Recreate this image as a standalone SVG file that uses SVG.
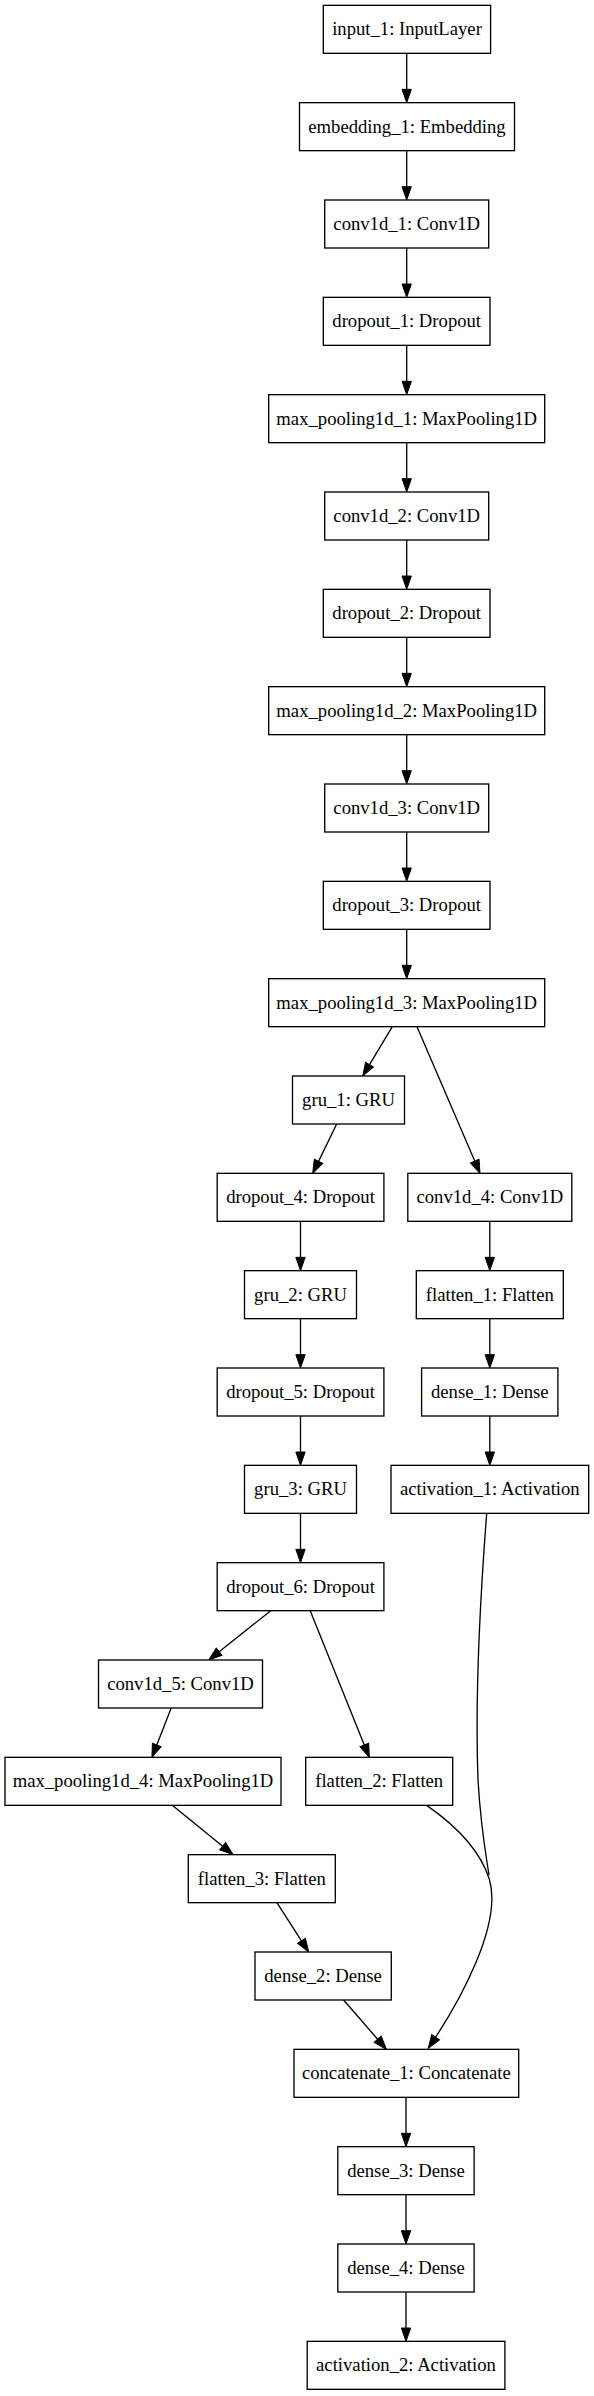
<svg xmlns="http://www.w3.org/2000/svg" width="594" height="2396" viewBox="0 0 594 2396">
<style>
rect{fill:#fff;stroke:#000;stroke-width:1.33}
text{font-family:"Liberation Serif","Times New Roman",serif;font-size:18.67px;fill:#000;text-anchor:middle}
.e{fill:none;stroke:#000;stroke-width:1.33;marker-end:url(#ah)}
.l{fill:none;stroke:#000;stroke-width:1.33}
</style>
<defs>
<marker id="ah" markerUnits="userSpaceOnUse" markerWidth="13.33" markerHeight="9.33" viewBox="0 0 13.33 9.33" refX="0" refY="4.67" orient="auto" overflow="visible">
<path d="M0,0 L13.33,4.67 L0,9.33 z" fill="#000" stroke="#000" stroke-width="1"/>
</marker>
</defs>
<rect x="0" y="0" width="594" height="2396" style="fill:#fff;stroke:none"/>
<g id="edges">
<line class="e" x1="406.7" y1="53.33" x2="406.7" y2="89.33"/>
<line class="e" x1="406.7" y1="150.67" x2="406.7" y2="186.67"/>
<line class="e" x1="406.7" y1="248" x2="406.7" y2="284"/>
<line class="e" x1="406.7" y1="345.33" x2="406.7" y2="381.33"/>
<line class="e" x1="406.7" y1="442.67" x2="406.7" y2="478.67"/>
<line class="e" x1="406.7" y1="540" x2="406.7" y2="576"/>
<line class="e" x1="406.7" y1="637.33" x2="406.7" y2="673.33"/>
<line class="e" x1="406.7" y1="734.67" x2="406.7" y2="770.67"/>
<line class="e" x1="406.7" y1="832" x2="406.7" y2="868"/>
<line class="e" x1="406.7" y1="929.33" x2="406.7" y2="965.33"/>
<line class="e" x1="392.3" y1="1026.67" x2="369.56" y2="1064.57"/>
<line class="e" x1="417" y1="1026.67" x2="474.74" y2="1161.08"/>
<line class="e" x1="336.7" y1="1124" x2="318.53" y2="1161.34"/>
<line class="e" x1="300.5" y1="1221.33" x2="300.5" y2="1257.33"/>
<line class="e" x1="300.5" y1="1318.67" x2="300.5" y2="1354.67"/>
<line class="e" x1="300.5" y1="1416" x2="300.5" y2="1452"/>
<line class="e" x1="300.5" y1="1513.33" x2="300.5" y2="1549.33"/>
<line class="e" x1="489.8" y1="1221.33" x2="489.8" y2="1257.33"/>
<line class="e" x1="489.8" y1="1318.67" x2="489.8" y2="1354.67"/>
<line class="e" x1="489.8" y1="1416" x2="489.8" y2="1452"/>
<line class="e" x1="270.8" y1="1610.67" x2="219.14" y2="1651.71"/>
<line class="e" x1="310.2" y1="1610.67" x2="364.32" y2="1744.96"/>
<line class="e" x1="171.2" y1="1708" x2="156.76" y2="1744.92"/>
<line class="e" x1="172.3" y1="1805.33" x2="222.66" y2="1846.26"/>
<line class="e" x1="276.9" y1="1902.67" x2="301.48" y2="1940.8"/>
<line class="e" x1="343.6" y1="2000" x2="377.66" y2="2039.26"/>
<path class="l" d="M486.7,1513.33 C480,1600 475,1700 478,1780 C481,1830 486,1855 489,1875"/>
<path class="e" d="M426.7,1805.33 C455,1825 480,1850 489.3,1879 C503,1925 457.6,2003.8 435.6,2037.2"/>
<line class="e" x1="406" y1="2097.33" x2="406" y2="2133.33"/>
<line class="e" x1="406" y1="2194.67" x2="406" y2="2230.67"/>
<line class="e" x1="406" y1="2292" x2="406" y2="2328"/>
</g>
<g id="input_1"><rect x="323.3" y="5.33" width="167.3" height="48"/><text x="407" y="35.33">input_1: InputLayer</text></g>
<g id="embedding_1"><rect x="299.5" y="102.67" width="215" height="48"/><text x="407" y="132.67">embedding_1: Embedding</text></g>
<g id="conv1d_1"><rect x="324.7" y="200" width="164" height="48"/><text x="406.7" y="230">conv1d_1: Conv1D</text></g>
<g id="dropout_1"><rect x="323.3" y="297.33" width="166.7" height="48"/><text x="406.7" y="327.33">dropout_1: Dropout</text></g>
<g id="max_pooling1d_1"><rect x="268.7" y="394.67" width="276" height="48"/><text x="406.7" y="424.67">max_pooling1d_1: MaxPooling1D</text></g>
<g id="conv1d_2"><rect x="324.7" y="492" width="164" height="48"/><text x="406.7" y="522">conv1d_2: Conv1D</text></g>
<g id="dropout_2"><rect x="323.3" y="589.33" width="166.7" height="48"/><text x="406.7" y="619.33">dropout_2: Dropout</text></g>
<g id="max_pooling1d_2"><rect x="268.7" y="686.67" width="276" height="48"/><text x="406.7" y="716.67">max_pooling1d_2: MaxPooling1D</text></g>
<g id="conv1d_3"><rect x="324.7" y="784" width="164" height="48"/><text x="406.7" y="814">conv1d_3: Conv1D</text></g>
<g id="dropout_3"><rect x="323.3" y="881.33" width="166.7" height="48"/><text x="406.7" y="911.33">dropout_3: Dropout</text></g>
<g id="max_pooling1d_3"><rect x="268.7" y="978.67" width="276" height="48"/><text x="406.7" y="1008.67">max_pooling1d_3: MaxPooling1D</text></g>
<g id="gru_1"><rect x="292.5" y="1076" width="112" height="48"/><text x="348.5" y="1106">gru_1: GRU</text></g>
<g id="dropout_4"><rect x="217.2" y="1173.33" width="166.7" height="48"/><text x="300.5" y="1203.33">dropout_4: Dropout</text></g>
<g id="conv1d_4"><rect x="407.8" y="1173.33" width="164" height="48"/><text x="489.8" y="1203.33">conv1d_4: Conv1D</text></g>
<g id="gru_2"><rect x="244.5" y="1270.67" width="112" height="48"/><text x="300.5" y="1300.67">gru_2: GRU</text></g>
<g id="flatten_1"><rect x="416.3" y="1270.67" width="147" height="48"/><text x="489.8" y="1300.67">flatten_1: Flatten</text></g>
<g id="dropout_5"><rect x="217.2" y="1368" width="166.7" height="48"/><text x="300.5" y="1398">dropout_5: Dropout</text></g>
<g id="dense_1"><rect x="421.6" y="1368" width="136.3" height="48"/><text x="489.8" y="1398">dense_1: Dense</text></g>
<g id="gru_3"><rect x="244.5" y="1465.33" width="112" height="48"/><text x="300.5" y="1495.33">gru_3: GRU</text></g>
<g id="activation_1"><rect x="391" y="1465.33" width="197.7" height="48"/><text x="489.8" y="1495.33">activation_1: Activation</text></g>
<g id="dropout_6"><rect x="217.2" y="1562.67" width="166.7" height="48"/><text x="300.5" y="1592.67">dropout_6: Dropout</text></g>
<g id="conv1d_5"><rect x="98.5" y="1660" width="164" height="48"/><text x="180.5" y="1690">conv1d_5: Conv1D</text></g>
<g id="max_pooling1d_4"><rect x="5" y="1757.33" width="276" height="48"/><text x="143" y="1787.33">max_pooling1d_4: MaxPooling1D</text></g>
<g id="flatten_2"><rect x="305.7" y="1757.33" width="147" height="48"/><text x="379.2" y="1787.33">flatten_2: Flatten</text></g>
<g id="flatten_3"><rect x="188.3" y="1854.67" width="147" height="48"/><text x="261.8" y="1884.67">flatten_3: Flatten</text></g>
<g id="dense_2"><rect x="255" y="1952" width="136.3" height="48"/><text x="323.1" y="1982">dense_2: Dense</text></g>
<g id="concatenate_1"><rect x="294" y="2049.33" width="224.7" height="48"/><text x="406.3" y="2079.33">concatenate_1: Concatenate</text></g>
<g id="dense_3"><rect x="337.8" y="2146.67" width="136.3" height="48"/><text x="406" y="2176.67">dense_3: Dense</text></g>
<g id="dense_4"><rect x="337.8" y="2244" width="136.3" height="48"/><text x="406" y="2274">dense_4: Dense</text></g>
<g id="activation_2"><rect x="307.2" y="2341.33" width="197.7" height="48"/><text x="406" y="2371.33">activation_2: Activation</text></g>
</svg>
